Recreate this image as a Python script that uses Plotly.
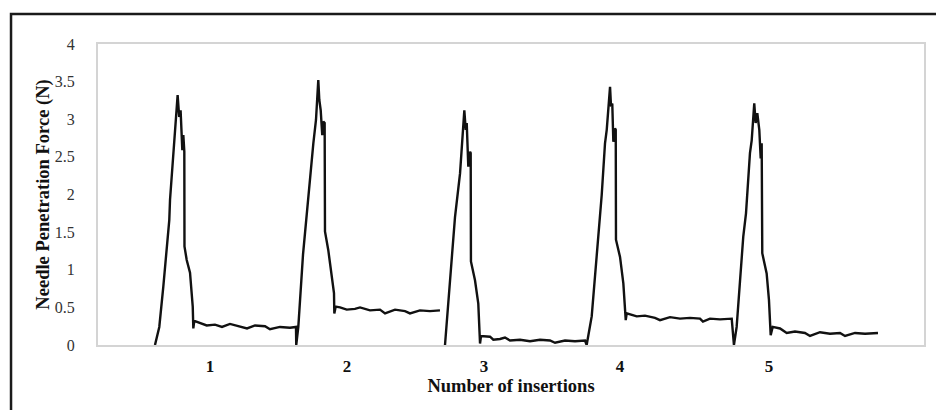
import plotly.graph_objects as go

# Time axis (arbitrary units, 0-100 spans plot) and force values (N)
time_a = [6.90, 7.42, 7.91, 8.23, 8.63, 8.72, 9.12, 9.32, 9.50, 9.64, 9.83, 10.00, 10.21, 10.33, 10.45,
          10.47, 10.74, 11.14, 11.47, 11.54, 11.66, 12.35, 13.16, 14.16, 15.01, 15.98, 17.19, 18.04,
          19.01, 20.22, 20.82, 22.03, 23.24, 23.97, 24.00, 24.25, 24.82, 25.27, 25.46, 26.07, 26.39,
          26.67, 26.79, 26.96, 27.15, 27.28, 27.44, 27.48, 27.88, 28.29, 28.57, 28.61, 28.78, 29.30,
          30.11, 31.11, 31.72, 32.93, 34.14, 34.75, 35.96, 37.17, 37.77, 38.98, 40.19, 41.40]
force_a = [0.00, 0.24, 0.78, 1.20, 1.66, 1.93, 2.50, 2.75, 3.05, 3.32, 3.03, 3.12, 2.59, 2.79, 2.57,
           1.31, 1.13, 0.96, 0.51, 0.22, 0.32, 0.29, 0.26, 0.27, 0.24, 0.28, 0.25, 0.22,
           0.26, 0.25, 0.21, 0.24, 0.23, 0.24, 0.00, 0.24, 1.20, 1.75, 2.02, 2.68, 2.99,
           3.52, 3.26, 3.12, 2.79, 2.97, 2.95, 1.51, 1.26, 0.95, 0.69, 0.42, 0.51, 0.50,
           0.47, 0.48, 0.50, 0.46, 0.47, 0.42, 0.47, 0.45, 0.42, 0.46, 0.45, 0.46]

time_b = [42.01, 42.49, 43.02, 43.22, 43.83, 44.10, 44.35, 44.52, 44.64, 44.83, 45.04, 45.12, 45.15,
          45.64, 46.04, 46.25, 46.37, 47.46, 47.86, 48.67, 49.27, 49.88, 51.09, 52.30, 53.51, 54.72,
          55.33, 56.54, 57.75, 58.96, 59.16, 59.77, 60.38, 60.77, 60.98, 61.38, 61.59, 61.99, 62.11,
          62.26, 62.39, 62.59, 62.68, 62.71, 63.20, 63.60, 63.89, 64.01, 65.22, 66.22, 67.43, 68.04,
          69.25, 70.46, 71.67, 72.88, 73.24, 74.09, 75.30, 76.72, 76.91, 76.99, 77.32, 78.12, 78.45,
          78.93, 79.14, 79.45, 79.62, 79.82, 80.06, 80.23, 80.35, 80.42, 80.95, 81.23, 81.44, 81.68,
          82.57, 83.38, 84.38, 85.59, 86.20, 87.41, 88.62, 89.83, 90.44, 91.65, 92.86, 94.43]
force_b = [0.00, 0.70, 1.44, 1.70, 2.28, 2.68, 3.12, 2.86, 2.95, 2.37, 2.57, 2.55, 1.11,
           0.86, 0.55, 0.02, 0.12, 0.11, 0.07, 0.08, 0.10, 0.06, 0.07, 0.05, 0.07, 0.06,
           0.03, 0.06, 0.05, 0.06, 0.00, 0.38, 1.17, 1.79, 1.99, 2.68, 2.86, 3.43, 3.17,
           3.21, 2.70, 2.88, 2.86, 1.40, 1.17, 0.82, 0.33, 0.42, 0.38, 0.39, 0.36, 0.33,
           0.37, 0.35, 0.36, 0.35, 0.31, 0.35, 0.34, 0.35, 0.02, 0.00, 0.24, 1.44, 1.75,
           2.55, 2.72, 3.21, 2.95, 3.08, 2.86, 2.48, 2.68, 1.22, 0.95, 0.60, 0.13, 0.24,
           0.22, 0.16, 0.18, 0.16, 0.12, 0.17, 0.15, 0.16, 0.12, 0.16, 0.15, 0.16]

insert_pos = [13.56, 30.15, 46.73, 63.20, 81.23]
insert_labels = ["1", "2", "3", "4", "5"]

FONT = "Liberation Serif"

fig = go.Figure()
fig.add_trace(go.Scatter(
    x=time_a + [None] + time_b,
    y=force_a + [None] + force_b,
    mode="lines",
    line=dict(color="#111111", width=2.4),
    connectgaps=False,
    showlegend=False,
    hoverinfo="skip",
))

fig.update_layout(
    width=936, height=410,
    margin=dict(l=98, r=12, t=44, b=65, pad=0),
    paper_bgcolor="white", plot_bgcolor="white",
    font=dict(family=FONT, color="#222222"),
    xaxis=dict(
        range=[0, 100], tickvals=insert_pos, ticktext=insert_labels,
        showgrid=False, zeroline=False, ticks="", automargin=False,
        showline=True, linecolor="#d4d4d4", linewidth=2, mirror=True,
        tickfont=dict(family=FONT, size=17, color="#111111", weight="bold"),
        ticklabelstandoff=5,
        title=dict(text="<b>Number of insertions</b>", font=dict(family=FONT, size=18.5, color="#111111"),
                   standoff=0),
    ),
    yaxis=dict(
        range=[0, 4], dtick=0.5, tick0=0,
        showgrid=False, zeroline=False, ticks="", automargin=False,
        showline=True, linecolor="#d4d4d4", linewidth=2, mirror=True,
        tickfont=dict(family=FONT, size=16, color="#333333"),
        ticklabelstandoff=18,
        title=dict(text="<b>Needle Penetration Force (N)</b>", font=dict(family=FONT, size=18.5, color="#111111"),
                   standoff=0),
    ),
)

# outer frame (right and bottom edges fall outside the image)
fig.add_shape(type="rect", xref="paper", yref="paper",
              x0=-0.1053, y0=-0.35, x1=1.2, y1=1.0997,
              line=dict(color="#1a1a1a", width=2.5), fillcolor="rgba(0,0,0,0)", layer="above")

fig.write_html("out.html", config={"displayModeBar": False},
               post_script="document.body.style.margin='0px';")
